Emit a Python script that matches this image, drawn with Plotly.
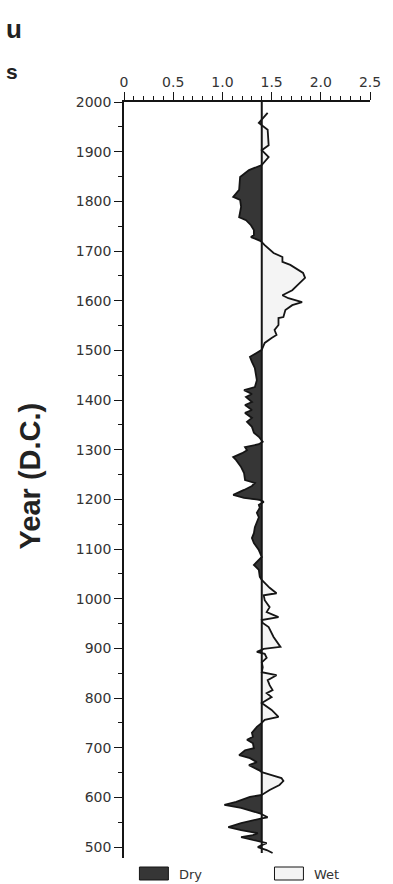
import numpy as np
import plotly.graph_objects as go

# Moisture index per year; values below the baseline are dry, above are wet
BASELINE = 1.4

years = [1978, 1958, 1944, 1913, 1903, 1889, 1873, 1863, 1849, 1823, 1809, 1803,
         1789, 1768, 1762, 1752, 1742, 1732, 1728, 1720, 1712, 1696, 1688, 1678,
         1672, 1656, 1646, 1636, 1621, 1611, 1605, 1597, 1591, 1581, 1567, 1565,
         1551, 1541, 1531, 1525, 1515, 1501, 1495, 1487, 1477, 1464, 1440, 1426,
         1420, 1412, 1406, 1396, 1390, 1380, 1374, 1364, 1356, 1346, 1334, 1326,
         1316, 1311, 1305, 1299, 1293, 1285, 1279, 1265, 1253, 1239, 1233, 1227,
         1219, 1209, 1203, 1199, 1195, 1189, 1183, 1173, 1164, 1144, 1132, 1122,
         1112, 1098, 1084, 1078, 1068, 1058, 1044, 1038, 1032, 1022, 1011, 1007,
         997, 983, 973, 963, 957, 951, 943, 923, 903, 899, 893, 889,
         881, 872, 862, 852, 846, 836, 826, 816, 810, 802, 790, 776,
         762, 756, 750, 742, 730, 722, 716, 709, 699, 695, 685, 679,
         671, 665, 655, 651, 645, 639, 633, 625, 615, 605, 601, 591,
         585, 579, 568, 560, 558, 548, 540, 534, 528, 524, 520, 514,
         508, 504, 500, 494, 488]

index = [1.46, 1.37, 1.46, 1.47, 1.40, 1.47, 1.40, 1.27, 1.18, 1.17, 1.11, 1.18,
         1.19, 1.17, 1.24, 1.29, 1.32, 1.32, 1.29, 1.39, 1.43, 1.52, 1.61, 1.61,
         1.69, 1.82, 1.84, 1.79, 1.71, 1.61, 1.67, 1.81, 1.71, 1.64, 1.62, 1.57,
         1.57, 1.53, 1.55, 1.50, 1.43, 1.40, 1.35, 1.28, 1.30, 1.33, 1.35, 1.33,
         1.22, 1.30, 1.24, 1.30, 1.23, 1.30, 1.23, 1.30, 1.25, 1.30, 1.32, 1.37,
         1.41, 1.37, 1.23, 1.25, 1.20, 1.11, 1.14, 1.19, 1.22, 1.23, 1.33, 1.30,
         1.22, 1.11, 1.22, 1.38, 1.42, 1.37, 1.38, 1.35, 1.37, 1.33, 1.32, 1.30,
         1.32, 1.37, 1.40, 1.37, 1.32, 1.37, 1.38, 1.40, 1.43, 1.48, 1.55, 1.42,
         1.43, 1.48, 1.45, 1.57, 1.40, 1.41, 1.47, 1.52, 1.59, 1.42, 1.35, 1.43,
         1.45, 1.40, 1.41, 1.40, 1.55, 1.46, 1.48, 1.51, 1.45, 1.50, 1.40, 1.50,
         1.57, 1.43, 1.40, 1.35, 1.30, 1.31, 1.25, 1.31, 1.32, 1.23, 1.17, 1.28,
         1.35, 1.27, 1.37, 1.40, 1.50, 1.60, 1.62, 1.58, 1.48, 1.40, 1.28, 1.14,
         1.02, 1.19, 1.38, 1.46, 1.40, 1.19, 1.06, 1.19, 1.36, 1.31, 1.19, 1.33,
         1.45, 1.40, 1.36, 1.45, 1.51]

x_tickvals = [0, 0.5, 1.0, 1.5, 2.0, 2.5]
x_ticktext = ["0", "0.5", "1.0", "1.5", "2.0", "2.5"]
y_tickvals = [500, 600, 700, 800, 900, 1000, 1100, 1200, 1300, 1400, 1500,
              1600, 1700, 1800, 1900, 2000]
legend_labels = ["Dry", "Wet"]

DRY_COLOR = "#363636"
WET_COLOR = "#f4f4f4"
INK = "#151515"
THIN_FONT = "'DejaVu Sans', Lato, sans-serif"
TICK_FONT = dict(family=THIN_FONT, size=14, color="#333333")
BOLD_FONT = "'Liberation Sans', Arial, sans-serif"


def insert_crossings(y, x, base):
    """Add points where the curve crosses the baseline so fills meet cleanly."""
    ys, xs = [y[0]], [x[0]]
    for i in range(1, len(y)):
        a, b = x[i - 1] - base, x[i] - base
        if a * b < 0:
            t = a / (a - b)
            ys.append(y[i - 1] + t * (y[i] - y[i - 1]))
            xs.append(base)
        ys.append(y[i])
        xs.append(x[i])
    return np.array(ys), np.array(xs)


yr = np.array(years, dtype=float)
val = np.array(index, dtype=float)
yy, xx = insert_crossings(yr, val, BASELINE)

dry_x = np.concatenate([[BASELINE], np.minimum(xx, BASELINE), [BASELINE]])
wet_x = np.concatenate([[BASELINE], np.maximum(xx, BASELINE), [BASELINE]])
poly_y = np.concatenate([[yy[0]], yy, [yy[-1]]])

fig = go.Figure()
fig.add_trace(go.Scatter(x=dry_x, y=poly_y, mode="lines", fill="toself",
                         fillcolor=DRY_COLOR, line=dict(width=0),
                         name=legend_labels[0], hoverinfo="skip"))
fig.add_trace(go.Scatter(x=wet_x, y=poly_y, mode="lines", fill="toself",
                         fillcolor=WET_COLOR, line=dict(width=0),
                         name=legend_labels[1], hoverinfo="skip"))
fig.add_trace(go.Scatter(x=val, y=yr, mode="lines",
                         line=dict(color=INK, width=1.8), name="index"))
fig.add_trace(go.Scatter(x=[BASELINE, BASELINE], y=[max(y_tickvals), yr.min()],
                         mode="lines", line=dict(color=INK, width=2),
                         name="baseline"))

# Plot box in pixels, used to place the legend and side texts in paper space
PLOT_L, PLOT_W, PLOT_B, PLOT_H = 124, 255, 858, 756


def px_x(p):
    return (p - PLOT_L) / PLOT_W


def px_y(p):
    return (PLOT_B - p) / PLOT_H


shapes = []
annotations = []
for (x0, x1, color, label, tx) in [(140, 170, DRY_COLOR, legend_labels[0], 179),
                                   (280, 310, WET_COLOR, legend_labels[1], 319)]:
    shapes.append(dict(type="rect", xref="paper", yref="paper",
                       x0=px_x(x0), x1=px_x(x1), y0=px_y(880), y1=px_y(867),
                       fillcolor=color, line=dict(color=INK, width=1)))
    annotations.append(dict(text=label, xref="paper", yref="paper",
                            x=px_x(tx), y=px_y(874), xanchor="left", yanchor="middle",
                            showarrow=False,
                            font=dict(family=THIN_FONT, size=13, color="#333333")))

annotations.append(dict(text="Year (D.C.)", xref="paper", yref="paper",
                        x=px_x(27), y=px_y(476), textangle=-90,
                        xanchor="center", yanchor="middle", showarrow=False,
                        font=dict(family=BOLD_FONT, size=29, color="#222",
                                  weight="bold")))
annotations.append(dict(text="u", xref="paper", yref="paper",
                        x=px_x(0), y=px_y(29), xanchor="left", yanchor="middle",
                        showarrow=False,
                        font=dict(family=BOLD_FONT, size=26, color="#222",
                                  weight="bold")))
annotations.append(dict(text="s", xref="paper", yref="paper",
                        x=px_x(0), y=px_y(71), xanchor="left", yanchor="middle",
                        showarrow=False,
                        font=dict(family=BOLD_FONT, size=21, color="#222",
                                  weight="bold")))

fig.update_layout(
    width=393, height=884,
    margin=dict(l=PLOT_L, r=393 - PLOT_L - PLOT_W, t=102, b=884 - PLOT_B),
    paper_bgcolor="white", plot_bgcolor="white",
    showlegend=False,
    shapes=shapes, annotations=annotations,
    xaxis=dict(side="top", range=[0, 2.5], tickvals=x_tickvals, ticktext=x_ticktext,
               ticks="outside", ticklen=8, tickwidth=1.2, tickcolor=INK,
               showline=True, linecolor=INK, linewidth=1.6,
               showgrid=False, zeroline=False, tickfont=TICK_FONT,
               minor=dict(dtick=0.1, tick0=0, ticks="outside", ticklen=4,
                          tickwidth=1, tickcolor=INK, showgrid=False)),
    yaxis=dict(range=[478, 2000], tickvals=y_tickvals,
               ticks="outside", ticklen=8, tickwidth=1.2, tickcolor=INK,
               showline=True, linecolor=INK, linewidth=1.6,
               showgrid=False, zeroline=False, tickfont=TICK_FONT,
               minor=dict(dtick=50, tick0=500, ticks="outside", ticklen=4,
                          tickwidth=1, tickcolor=INK, showgrid=False)),
)

fig.write_html("out.html")
